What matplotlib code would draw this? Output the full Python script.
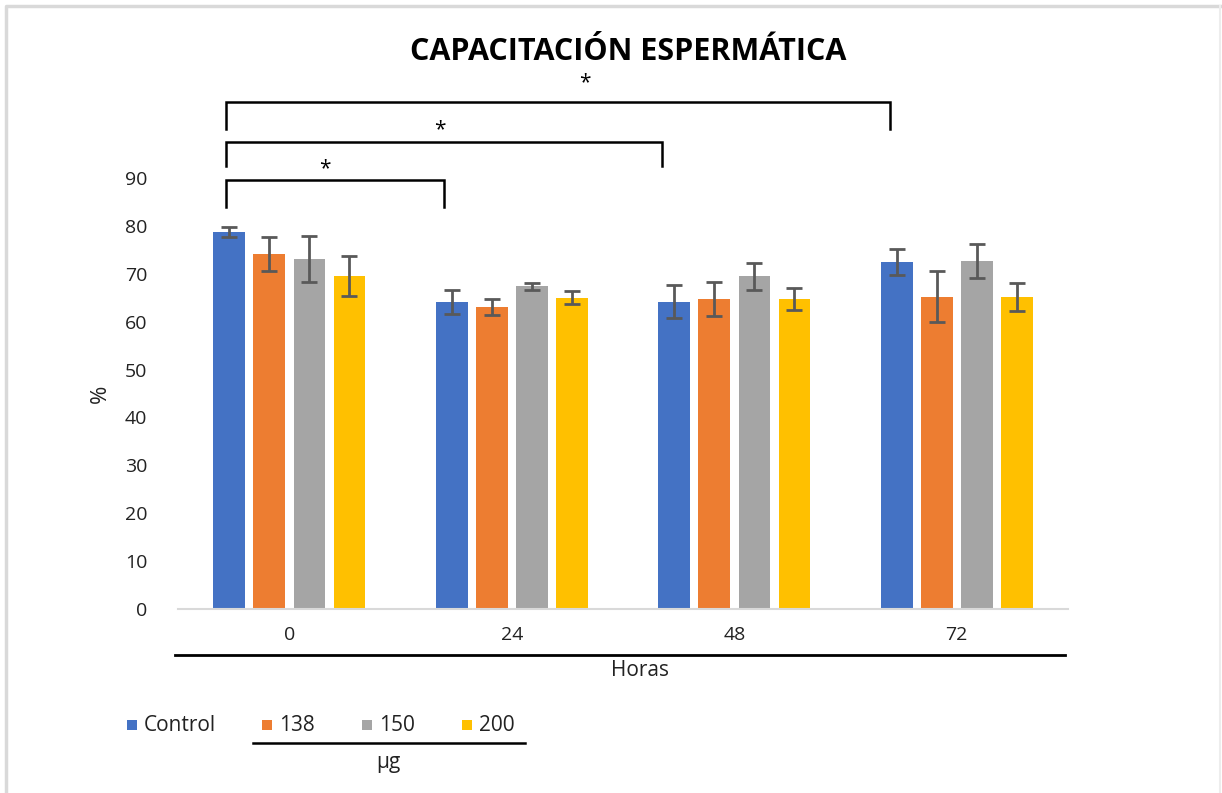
import numpy as np
import matplotlib.pyplot as plt
from matplotlib.lines import Line2D

plt.rcParams['font.family'] = ['Open Sans', 'DejaVu Sans']

horas = ['0', '24', '48', '72']
series = ['Control', '138', '150', '200']
colors = ['#4472C4', '#ED7D31', '#A5A5A5', '#FFC000']

control = [78.7, 64.2, 64.2, 72.5]
d138 = [74.1, 63.1, 64.7, 65.2]
d150 = [73.0, 67.4, 69.5, 72.7]
d200 = [69.5, 65.0, 64.7, 65.2]

err_control = [1.1, 2.5, 3.4, 2.7]
err_138 = [3.6, 1.7, 3.5, 5.3]
err_150 = [4.8, 0.7, 2.8, 3.5]
err_200 = [4.2, 1.4, 2.3, 2.9]

# significance brackets: Control at 0 h vs Control at 24, 48, 72 h
sig_labels = ['*', '*', '*']

values = [control, d138, d150, d200]
errors = [err_control, err_138, err_150, err_200]

fig = plt.figure(figsize=(12.22, 7.93), dpi=100)
ax = fig.add_axes([0.1457, 0.232, 0.7283, 0.5435])

x = np.arange(len(horas))
pitch = 0.18
width = 0.142
for i, (vals, errs, col) in enumerate(zip(values, errors, colors)):
    pos = x + (i - 1.5) * pitch
    ax.bar(pos, vals, width=width, color=col, zorder=2)
    ax.errorbar(pos, vals, yerr=errs, fmt='none', ecolor='#595959',
                elinewidth=2, capsize=5.5, capthick=2, zorder=3)

ax.set_xlim(-0.5, 3.5)
ax.set_ylim(0, 90)
ax.set_yticks(np.arange(0, 91, 10))
ax.tick_params(axis='y', length=0, labelsize=14, colors='#222222', pad=22)
ax.set_xticks(x)
ax.set_xticklabels(horas)
ax.tick_params(axis='x', length=0, labelsize=14, colors='#222222', pad=12)
for s in ['top', 'right', 'left']:
    ax.spines[s].set_visible(False)
ax.spines['bottom'].set_color('#D9D9D9')
ax.spines['bottom'].set_linewidth(1.5)
ax.set_ylabel('%', fontsize=16, labelpad=10, color='#222222')

# brackets above the bars
x_left = -0.283
right_ends = [0.695, 1.673, 2.70]
bar_y = [(89.6, 84.0), (97.5, 92.5), (105.9, 100.2)]
star_pos = [(0.161, 92.0), (0.677, 100.0), (1.327, 110.0)]
for lab, xr, (yt, yb), (sx, sy) in zip(sig_labels, right_ends, bar_y, star_pos):
    ax.plot([x_left, x_left, xr, xr], [yb, yt, yt, yb], color='black',
            lw=1.8, clip_on=False, solid_joinstyle='miter')
    ax.text(sx, sy, lab, fontsize=15, ha='center', va='center')

fig.text(0.514, 0.935, 'CAPACITACIÓN ESPERMÁTICA', fontsize=22,
         fontweight='bold', ha='center', va='center')

# category line and axis title under the tick labels
fig.add_artist(Line2D([0.1432, 0.8715], [0.174, 0.174], color='black', lw=2))
fig.text(0.524, 0.154, 'Horas', fontsize=15, ha='center', va='center',
         color='#222222')

# legend
leg_x = [0.104, 0.214, 0.296, 0.378]
for col, lab, lx in zip(colors, series, leg_x):
    fig.add_artist(plt.Rectangle((lx, 0.079), 0.0085, 0.013,
                                 facecolor=col, transform=fig.transFigure))
    fig.text(lx + 0.014, 0.085, lab, fontsize=15, va='center',
             color='#222222')
fig.add_artist(Line2D([0.207, 0.430], [0.063, 0.063], color='black', lw=1.8))
fig.text(0.318, 0.039, 'µg', fontsize=15, ha='center', va='center',
         color='#222222')

# outer frame
fig.add_artist(Line2D([0.005, 0.005, 0.998], [0.0, 0.993, 0.993],
                      color='#D9D9D9', lw=2.5))
fig.add_artist(Line2D([0.9985, 0.9985], [0.0, 0.993],
                      color='#EDEDED', lw=1.5))

fig.savefig('out.png', dpi=100)
